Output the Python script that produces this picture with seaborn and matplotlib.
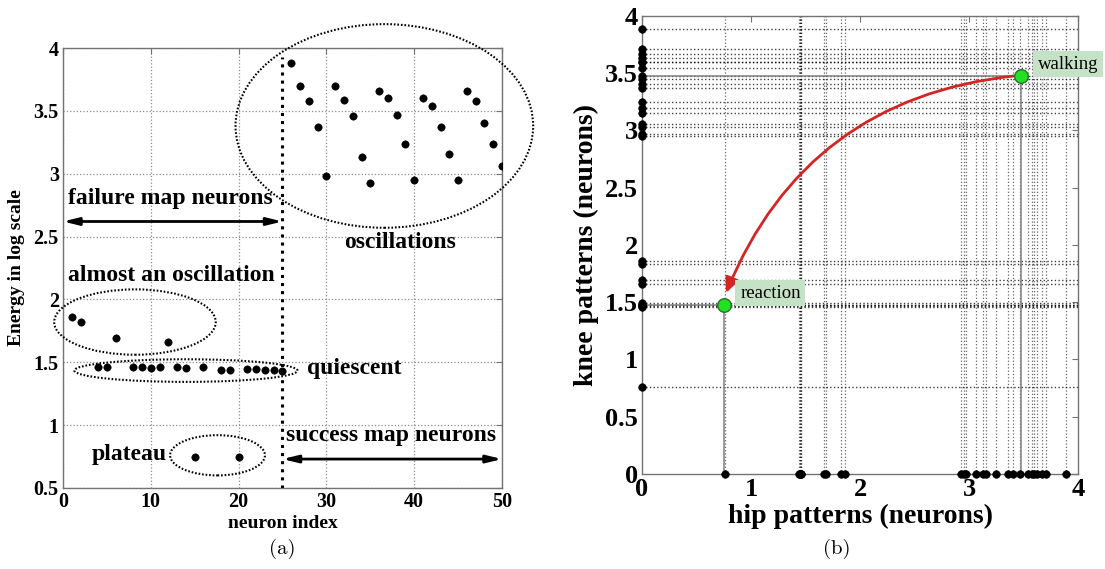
import numpy as np
import pandas as pd
import seaborn as sns
import matplotlib.pyplot as plt
from matplotlib.patches import Ellipse

# --------------------------- DATA ---------------------------
# panel (a): neuron index vs energy (log scale)
almost_idx = [1, 2, 6, 12]
almost_energy = [1.86, 1.82, 1.69, 1.66]

quiescent_idx = [4, 5, 8, 9, 10, 11, 13, 14, 16, 18, 19, 21, 22, 23, 24, 25]
quiescent_energy = [1.46, 1.46, 1.46, 1.46, 1.455, 1.46, 1.46, 1.455,
                    1.46, 1.44, 1.435, 1.45, 1.45, 1.44, 1.44, 1.43]

plateau_idx = [15, 20]
plateau_energy = [0.75, 0.75]

osc_idx = list(range(26, 51))
osc_energy = [3.88, 3.70, 3.58, 3.37, 2.98, 3.70, 3.59, 3.46, 3.135, 2.93,
              3.66, 3.60, 3.47, 3.24, 2.95, 3.60, 3.54, 3.37, 3.155, 2.95,
              3.66, 3.58, 3.40, 3.24, 3.06]

xticks_a = [0, 10, 20, 30, 40, 50]
yticks_a = [0.5, 1, 1.5, 2, 2.5, 3, 3.5, 4]
ytick_labels_a = ["0.5", "1", "1.5", "2", "2.5", "3", "3.5", "4"]

# panel (b): hip / knee patterns
hip_values = [0.76, 1.44, 1.45, 1.45, 1.46, 1.46, 1.67, 1.69, 1.83, 1.86,
              2.93, 2.95, 2.97, 3.06, 3.13, 3.16, 3.25, 3.36, 3.40, 3.47,
              3.54, 3.58, 3.60, 3.62, 3.67, 3.71, 3.89]
knee_values = [0.76, 1.46, 1.47, 1.48, 1.48, 1.49, 1.66, 1.69, 1.83, 1.86,
               2.95, 2.97, 3.03, 3.06, 3.155, 3.20, 3.25, 3.37, 3.41, 3.45,
               3.48, 3.55, 3.60, 3.60, 3.63, 3.665, 3.71, 3.89]

pattern_names = ["reaction", "walking"]
pattern_hip = [0.75, 3.48]
pattern_knee = [1.48, 3.48]

xticks_b = [0, 1, 2, 3, 4]
yticks_b = [0, 0.5, 1, 1.5, 2, 2.5, 3, 3.5, 4]
ytick_labels_b = ["0", "0.5", "1", "1.5", "2", "2.5", "3", "3.5", "4"]

# --------------------------- STYLE ---------------------------
sns.set_style("white")
plt.rcParams['font.family'] = ['Liberation Serif', 'DejaVu Serif']
plt.rcParams['font.weight'] = 'bold'
plt.rcParams['axes.labelweight'] = 'bold'
plt.rcParams['text.color'] = 'black'
plt.rcParams['axes.labelcolor'] = 'black'
plt.rcParams['xtick.labelcolor'] = 'black'
plt.rcParams['ytick.labelcolor'] = 'black'

SPINE = '0.45'

fig = plt.figure(figsize=(11.05, 5.69), dpi=100)
ax1 = fig.add_axes([0.057, 0.1424, 0.3973, 0.7732])
ax2 = fig.add_axes([0.581, 0.167, 0.3946, 0.8049])

# --------------------------- PANEL (a) ---------------------------
df_a = pd.DataFrame({
    'neuron': almost_idx + quiescent_idx + plateau_idx + osc_idx,
    'energy': almost_energy + quiescent_energy + plateau_energy + osc_energy,
})
sns.scatterplot(data=df_a, x='neuron', y='energy', ax=ax1, color='black',
                edgecolor='black', s=28, zorder=4)

ax1.set_xlim(0, 50)
ax1.set_ylim(0.5, 4)
ax1.set_xticks(xticks_a)
ax1.set_xticklabels([str(t) for t in xticks_a])
ax1.set_yticks(yticks_a)
ax1.set_yticklabels(ytick_labels_a)
ax1.grid(True, linestyle=':', color='0.55', lw=0.9)
ax1.set_axisbelow(True)
ax1.set_xlabel("neuron index", fontsize=14, labelpad=2)
ax1.set_ylabel("Energy in log scale", fontsize=14, labelpad=6)

# boundary between failure and success maps
ax1.plot([25, 25], [0.5, 3.93], color='black', ls=':', lw=2.2, zorder=3)

arrow_kw = dict(arrowstyle='<|-|>,head_length=0.9,head_width=0.22',
                color='black', lw=2, shrinkA=0, shrinkB=0)
ax1.annotate('', xy=(0, 2.62), xytext=(25, 2.62), arrowprops=arrow_kw)
ax1.annotate('', xy=(25, 0.73), xytext=(50, 0.73), arrowprops=arrow_kw)

ax1.text(0.6, 2.8, "failure map neurons", fontsize=17, ha='left', va='center')
ax1.text(0.6, 2.19, "almost an oscillation", fontsize=17, ha='left', va='center')
ax1.text(38.4, 2.45, "oscillations", fontsize=17, ha='center', va='center')
ax1.text(27.8, 1.45, "quiescent", fontsize=17, ha='left', va='center')
ax1.text(25.4, 0.92, "success map neurons", fontsize=17, ha='left', va='center')
ax1.text(7.5, 0.77, "plateau", fontsize=17, ha='center', va='center')

ell_kw = dict(fill=False, edgecolor='black', lw=1.5, ls=(0, (0.8, 0.9)),
              clip_on=False, zorder=3)
ax1.add_patch(Ellipse((36.6, 3.38), 33.9, 1.62, **ell_kw))
ax1.add_patch(Ellipse((8.2, 1.82), 18.4, 0.52, **ell_kw))
ax1.add_patch(Ellipse((14.0, 1.434), 25.4, 0.18, **ell_kw))
ax1.add_patch(Ellipse((17.6, 0.76), 10.8, 0.32, **ell_kw))

# --------------------------- PANEL (b) ---------------------------
for h in hip_values:
    ax2.axvline(h, color='black', ls=':', lw=0.9, alpha=0.6, zorder=1)
for k in knee_values:
    ax2.axhline(k, color='black', ls=':', lw=1.0, alpha=0.75, zorder=1)

# projections of the two patterns onto the axes
ax2.vlines(pattern_hip, 0, pattern_knee, color='0.5', lw=1.1, zorder=2)
ax2.hlines(pattern_knee, 0, pattern_hip, color='0.5', lw=1.1, zorder=2)

df_hip = pd.DataFrame({'x': hip_values, 'y': np.zeros(len(hip_values))})
df_knee = pd.DataFrame({'x': np.zeros(len(knee_values)), 'y': knee_values})
sns.scatterplot(data=df_hip, x='x', y='y', ax=ax2, color='black',
                edgecolor='black', s=30, zorder=4, clip_on=False)
sns.scatterplot(data=df_knee, x='x', y='y', ax=ax2, color='black',
                edgecolor='black', s=30, zorder=4, clip_on=False)

df_pat = pd.DataFrame({'hip': pattern_hip, 'knee': pattern_knee, 'name': pattern_names})
sns.scatterplot(data=df_pat, x='hip', y='knee', ax=ax2, color='#22e022',
                edgecolor='#2d6e2d', s=95, linewidth=1, zorder=6, clip_on=False)

ax2.annotate('', xy=(0.77, 1.58), xytext=(3.45, 3.48),
             arrowprops=dict(arrowstyle='-|>,head_length=0.45,head_width=0.2',
                             color='#d42424', lw=2,
                             connectionstyle='arc3,rad=0.3',
                             shrinkA=3, shrinkB=0, mutation_scale=20),
             zorder=5)

label_box = dict(boxstyle='square,pad=0.25', facecolor='#c6e2c6', edgecolor='none')
for name, hx, ky in zip(pattern_names, pattern_hip, pattern_knee):
    ax2.text(hx + 0.15, ky + 0.1, name, fontsize=13.5, fontweight='normal',
             ha='left', va='center', bbox=label_box, zorder=7, clip_on=False)

ax2.set_xlim(0, 4)
ax2.set_ylim(0, 4)
ax2.set_xticks(xticks_b)
ax2.set_xticklabels([str(t) for t in xticks_b])
ax2.set_yticks(yticks_b)
ax2.set_yticklabels(ytick_labels_b)
ax2.set_xlabel("hip patterns (neurons)", fontsize=20, labelpad=2)
ax2.set_ylabel("knee patterns (neurons)", fontsize=20, labelpad=4)

# --------------------------- COMMON AXES STYLE ---------------------------
for ax, fs in [(ax1, 14.5), (ax2, 19)]:
    for sp in ax.spines.values():
        sp.set_color(SPINE)
        sp.set_linewidth(1.0)
        sp.set_visible(True)
    ax.tick_params(direction='in', top=True, right=True, length=4,
                   color=SPINE, labelsize=fs, pad=3)

fig.text(282 / 1105, 1 - 549 / 569, "(a)", family='cmr10', fontsize=15,
         fontweight='normal', ha='center', va='center')
fig.text(837 / 1105, 1 - 549 / 569, "(b)", family='cmr10', fontsize=15,
         fontweight='normal', ha='center', va='center')

fig.savefig("out.png", dpi=100)
plt.close(fig)
